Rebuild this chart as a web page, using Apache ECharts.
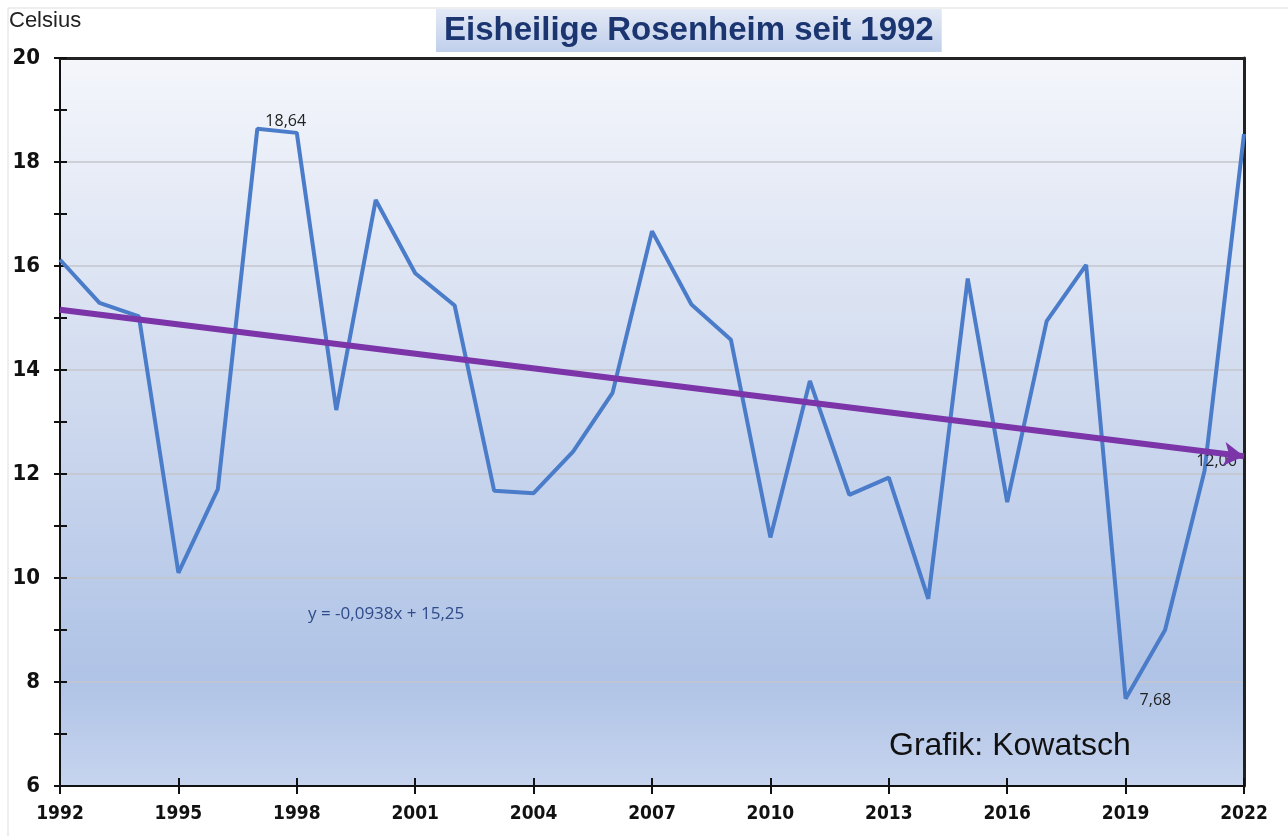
<!DOCTYPE html>
<html>
<head>
<meta charset="utf-8">
<script src="https://cdn.jsdelivr.net/npm/echarts@6/dist/echarts.min.js"></script>
<style>
  html, body { margin: 0; padding: 0; background: #fff; }
  #chart { width: 1288px; height: 836px; }
</style>
</head>
<body>
<div id="chart"></div>
<script>
// Jahre und Temperaturen
const years = [1992, 1993, 1994, 1995, 1996, 1997, 1998, 1999, 2000, 2001,
  2002, 2003, 2004, 2005, 2006, 2007, 2008, 2009, 2010, 2011,
  2012, 2013, 2014, 2015, 2016, 2017, 2018, 2019, 2020, 2021, 2022];
const temps = [16.12, 15.29, 15.03, 10.1, 11.71, 18.64, 18.56, 13.23, 17.27, 15.86,
  15.24, 11.68, 11.63, 12.43, 13.56, 16.67, 15.26, 14.58, 10.78, 13.79,
  11.6, 11.93, 9.6, 15.76, 11.46, 14.94, 16.02, 7.68, 9.0, 12.06, 18.54];
// Trendlinie: Anfangs- und Endwert
const trendYears = [1992, 2022];
const trendValues = [15.16, 12.34];
// beschriftete Punkte
const labelled = { 1997: 'right', 2019: 'right', 2021: 'top' };
const yTicks = [6, 20, 2];
const xTicks = [1992, 2022, 3];

const fmt = v => v.toFixed(2).replace('.', ',');
const axisFont = 'DejaVu Sans Condensed';

const chart = echarts.init(document.getElementById('chart'));

const lineData = years.map((y, i) => {
  const item = { value: [y, temps[i]] };
  if (labelled[y]) {
    item.label = {
      show: true,
      position: labelled[y],
      formatter: p => fmt(p.value[1]),
      color: '#222',
      fontSize: 16,
      fontFamily: 'Open Sans',
      distance: 6,
      offset: y === 1997 ? [2, -7] : (y === 2021 ? [12, 5] : [8, 2])
    };
  }
  return item;
});

// Hilfsachse nur fuer Rahmen / Striche
const tickAxis = (base, extra) => Object.assign({
  type: 'value', offset: 0,
  min: base[0], max: base[1], interval: base[2],
  axisLine: { show: false },
  axisTick: { show: false },
  axisLabel: { show: false },
  splitLine: { show: false }
}, extra);

chart.setOption({
  animation: false,
  title: {
    text: 'Eisheilige Rosenheim seit 1992',
    left: 436,
    top: 9,
    padding: [5, 8, 5, 8],
    backgroundColor: {
      type: 'linear', x: 0, y: 0, x2: 0, y2: 1,
      colorStops: [{ offset: 0, color: '#e3e9f6' }, { offset: 1, color: '#c0cfeb' }]
    },
    textStyle: {
      fontFamily: 'Liberation Sans',
      fontWeight: 'bold',
      fontSize: 33,
      color: '#1b3570'
    }
  },
  graphic: [
    {
      type: 'text', left: 9, top: 10,
      style: { text: 'Celsius', font: '22px "Liberation Sans"', fill: '#222' }
    },
    {
      type: 'text', left: 308, top: 606,
      style: { text: 'y = -0,0938x + 15,25', font: '17px "Open Sans"', fill: '#2f4b8a' }
    },
    {
      type: 'text', left: 889, top: 730,
      style: { text: 'Grafik: Kowatsch', font: '32px "Liberation Sans"', fill: '#111' }
    },
    {
      type: 'line', z: -1,
      shape: { x1: 8, y1: 8, x2: 1288, y2: 8 },
      style: { stroke: '#ddd', lineWidth: 1 }
    },
    {
      type: 'line', z: -1,
      shape: { x1: 8, y1: 8, x2: 8, y2: 836 },
      style: { stroke: '#ddd', lineWidth: 1 }
    }
  ],
  grid: {
    left: 60, right: 44, top: 58, bottom: 50,
    show: true,
    borderWidth: 0,
    backgroundColor: {
      type: 'linear', x: 0, y: 0, x2: 0, y2: 1,
      colorStops: [
        { offset: 0, color: '#f4f6fb' },
        { offset: 0.45, color: '#d1dbef' },
        { offset: 0.85, color: '#afc3e6' },
        { offset: 1, color: '#c6d4ee' }
      ]
    }
  },
  xAxis: [
    {
      type: 'value',
      min: xTicks[0], max: xTicks[1], interval: xTicks[2],
      axisLine: { lineStyle: { color: '#111', width: 2 } },
      axisTick: { show: true, length: 8, lineStyle: { color: '#111', width: 2 } },
      axisLabel: {
        formatter: v => String(v),
        fontFamily: axisFont,
        fontWeight: 'bold', fontSize: 19, color: '#111', margin: 19
      },
      splitLine: { show: false }
    },
    tickAxis(xTicks, {
      position: 'bottom',
      axisTick: { show: true, inside: true, length: 8, lineStyle: { color: '#111', width: 2 } }
    }),
    tickAxis(xTicks, {
      position: 'top',
      axisLine: { show: true, lineStyle: { color: '#222', width: 3 } }
    })
  ],
  yAxis: [
    {
      type: 'value',
      min: yTicks[0], max: yTicks[1], interval: yTicks[2],
      axisLine: { show: true, lineStyle: { color: '#111', width: 2 } },
      axisTick: { show: true, length: 6, lineStyle: { color: '#111', width: 2 } },
      minorTick: { show: true, splitNumber: 2, length: 6, lineStyle: { color: '#111', width: 2 } },
      axisLabel: {
        fontFamily: axisFont,
        fontWeight: 'bold', fontSize: 22, color: '#111', margin: 20
      },
      splitLine: { show: true, lineStyle: { color: '#c4c6cc', width: 1.5 } }
    },
    tickAxis(yTicks, {
      position: 'left',
      axisTick: { show: true, inside: true, length: 7, lineStyle: { color: '#111', width: 2 } },
      minorTick: { show: true, splitNumber: 2, length: 7, lineStyle: { color: '#111', width: 2 } }
    }),
    tickAxis(yTicks, {
      position: 'right',
      axisLine: { show: true, lineStyle: { color: '#222', width: 3 } }
    })
  ],
  series: [
    {
      name: 'Eisheilige',
      type: 'line',
      data: lineData,
      symbol: 'circle',
      symbolSize: 0,
      showAllSymbol: true,
      lineStyle: { color: '#4a7cc9', width: 4 },
      itemStyle: { color: '#4a7cc9' },
      z: 3
    },
    {
      name: 'Trend',
      type: 'line',
      data: [],
      symbol: 'none',
      z: 4,
      markLine: {
        silent: true,
        symbol: ['none', 'arrow'],
        symbolSize: [18, 20],
        label: { show: false },
        lineStyle: { color: '#7b35a8', width: 6, type: 'solid' },
        data: [[
          { coord: [trendYears[0], trendValues[0]] },
          { coord: [trendYears[1], trendValues[1]] }
        ]]
      }
    }
  ]
});
</script>
</body>
</html>
